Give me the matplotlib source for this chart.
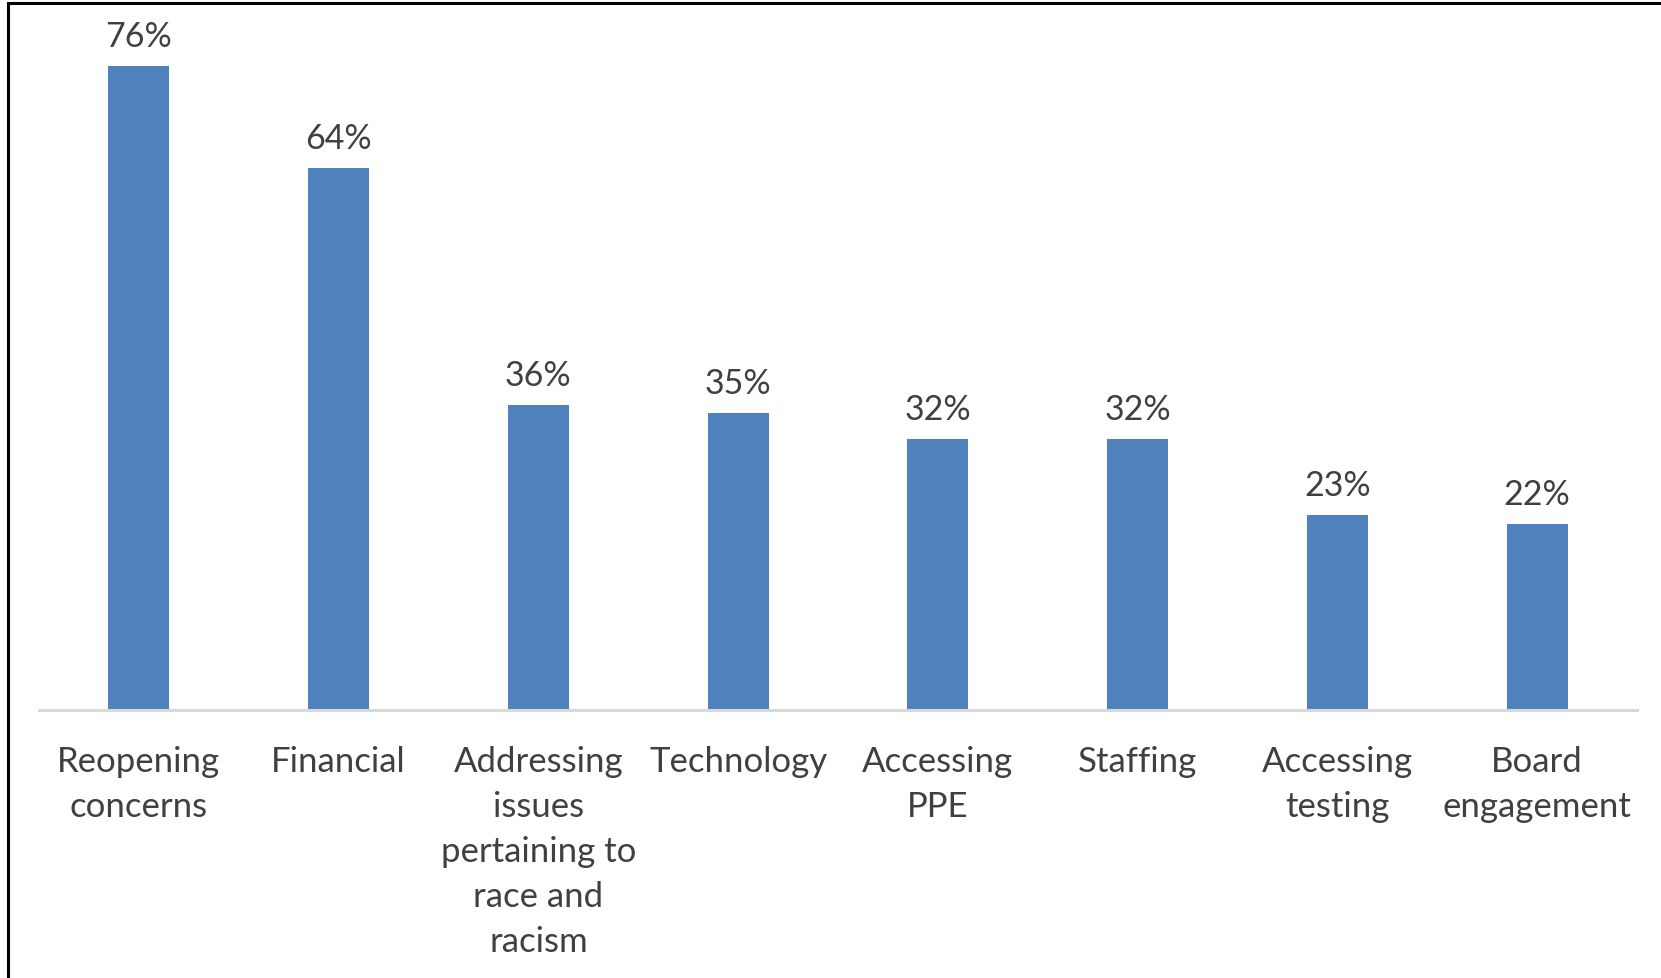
import matplotlib.pyplot as plt
from matplotlib.patches import Rectangle

# Challenges reported (% of respondents)
categories = [
    "Reopening\nconcerns",
    "Financial",
    "Addressing\nissues\npertaining to\nrace and\nracism",
    "Technology",
    "Accessing\nPPE",
    "Staffing",
    "Accessing\ntesting",
    "Board\nengagement",
]
values = [76, 64, 36, 35, 32, 32, 23, 22]

plt.rcParams['font.family'] = ['Lato', 'DejaVu Sans']
text_color = "#404040"

fig = plt.figure(figsize=(16.61, 9.79), dpi=100)
ax = fig.add_axes([39 / 1661, 1 - 711 / 979, 1598 / 1661, 678 / 979])

x = range(len(categories))
bars = ax.bar(x, values, width=0.305, color="#4F81BD")

for b, v in zip(bars, values):
    ax.annotate(f"{v}%", (b.get_x() + b.get_width() / 2, v),
                xytext=(0, 10), textcoords="offset points",
                ha="center", va="bottom", fontsize=24.5, color=text_color)

ax.set_xlim(-0.5, len(categories) - 0.5)
ax.set_ylim(0, 80)
ax.set_xticks(list(x))
ax.set_xticklabels(categories, fontsize=25, color=text_color, linespacing=1.5)
ax.tick_params(axis="x", length=0, pad=25)
ax.set_yticks([])

for s in ["top", "right", "left"]:
    ax.spines[s].set_visible(False)
ax.spines["bottom"].set_color("#D9D9D9")
ax.spines["bottom"].set_linewidth(2.2)

# outer frame, only the top and left edges fall inside the image
fig.patches.append(Rectangle((8 / 1661, -0.1), 1.2, 1.1 - 4 / 979,
                             transform=fig.transFigure, fill=False,
                             edgecolor="black", linewidth=2.2))

fig.savefig("out.png", dpi=100)
